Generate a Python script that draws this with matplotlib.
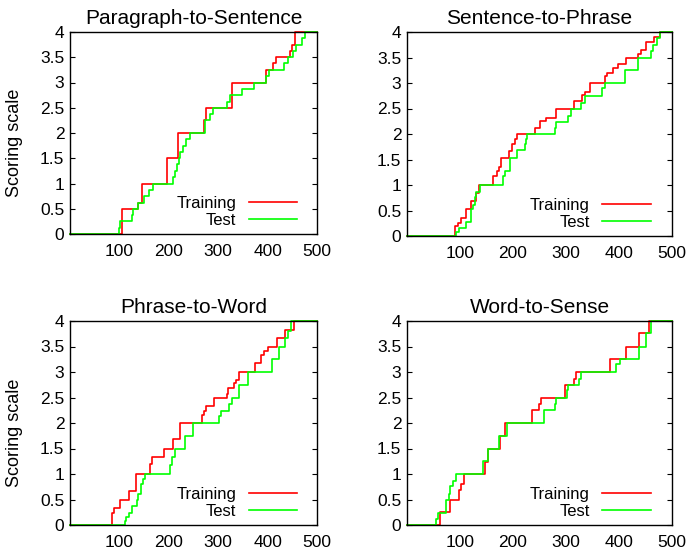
import matplotlib
matplotlib.use('Agg')
import matplotlib.pyplot as plt
from matplotlib.ticker import FuncFormatter

plt.rcParams['font.family'] = ['Liberation Sans', 'DejaVu Sans']

titles = ['Paragraph-to-Sentence', 'Sentence-to-Phrase', 'Phrase-to-Word', 'Word-to-Sense']

# Paragraph-to-Sentence
p2s_train_x = [0, 106, 138, 146, 196, 219, 272, 276, 327, 397, 410, 417, 446, 450, 455]
p2s_train_y = [0, 0.5, 0.62, 1.0, 1.5, 2.0, 2.25, 2.5, 3.0, 3.25, 3.38, 3.5, 3.62, 3.75, 4.0]
p2s_test_x = [0, 99, 102, 125, 128, 138, 150, 160, 168, 209, 212, 216, 220, 223, 229, 235, 242,
              274, 283, 290, 318, 324, 348, 372, 397, 403, 434, 442, 451, 458, 470, 476]
p2s_test_y = [0, 0.12, 0.25, 0.38, 0.5, 0.62, 0.75, 0.88, 1.0, 1.12, 1.25, 1.38, 1.5, 1.62, 1.75, 1.88, 2.0,
              2.25, 2.38, 2.5, 2.62, 2.75, 2.88, 3.0, 3.12, 3.25, 3.38, 3.5, 3.62, 3.75, 3.88, 4.0]

# Sentence-to-Phrase
s2p_train_x = [0, 91, 96, 101, 111, 121, 131, 136, 162, 170, 174, 178, 192, 199, 203, 208,
               241, 250, 262, 281, 315, 330, 336, 346, 374, 378, 388, 399, 414, 436, 442, 451, 466, 477]
s2p_train_y = [0, 0.19, 0.25, 0.35, 0.52, 0.68, 0.84, 1.0, 1.17, 1.27, 1.35, 1.52, 1.67, 1.8, 1.9, 2.0,
               2.12, 2.25, 2.32, 2.5, 2.64, 2.76, 2.82, 3.0, 3.13, 3.2, 3.3, 3.38, 3.5, 3.57, 3.65, 3.8, 3.9, 4.0]
s2p_test_x = [0, 92, 98, 111, 121, 125, 128, 131, 137, 182, 184, 194, 208, 222, 225, 227,
              280, 282, 303, 310, 329, 335, 367, 374, 411, 435, 460, 464, 471, 477]
s2p_test_y = [0, 0.08, 0.16, 0.28, 0.52, 0.6, 0.77, 0.86, 1.0, 1.17, 1.28, 1.52, 1.68, 1.8, 1.9, 2.0,
              2.12, 2.23, 2.35, 2.5, 2.6, 2.75, 2.9, 3.0, 3.25, 3.5, 3.62, 3.75, 3.88, 4.0]

# Phrase-to-Word
p2w_train_x = [0, 86, 90, 101, 119, 133, 162, 167, 191, 209, 222, 268, 271, 275, 292,
               317, 320, 332, 336, 342, 374, 387, 392, 400, 420, 436, 454]
p2w_train_y = [0, 0.23, 0.33, 0.5, 0.67, 1.0, 1.19, 1.34, 1.5, 1.68, 2.0, 2.16, 2.24, 2.33, 2.5,
               2.57, 2.68, 2.78, 2.85, 3.0, 3.18, 3.34, 3.42, 3.5, 3.67, 3.83, 4.0]
p2w_test_x = [0, 111, 113, 119, 125, 135, 138, 144, 147, 152, 202, 206, 212, 232, 249,
              302, 305, 322, 328, 342, 360, 409, 423, 435, 441, 448]
p2w_test_y = [0, 0.07, 0.15, 0.23, 0.37, 0.5, 0.61, 0.8, 0.9, 1.0, 1.18, 1.34, 1.5, 1.75, 2.0,
              2.13, 2.24, 2.38, 2.5, 2.74, 3.0, 3.25, 3.5, 3.67, 3.8, 4.0]

# Word-to-Sense
w2s_train_x = [0, 62, 81, 98, 102, 108, 147, 152, 175, 184, 236, 249, 252, 299, 316, 318,
               383, 413, 437, 456]
w2s_train_y = [0, 0.25, 0.5, 0.68, 0.8, 1.0, 1.24, 1.5, 1.75, 2.0, 2.25, 2.37, 2.5, 2.74, 2.87, 3.0,
               3.26, 3.5, 3.77, 4.0]
w2s_test_x = [0, 55, 59, 74, 79, 82, 87, 93, 143, 152, 173, 188, 258, 279, 282, 301, 304, 325, 328,
              395, 401, 437, 450, 460]
w2s_test_y = [0, 0.12, 0.23, 0.5, 0.6, 0.76, 0.87, 1.0, 1.25, 1.5, 1.75, 2.0, 2.25, 2.37, 2.5, 2.64, 2.74, 2.87, 3.0,
              3.15, 3.26, 3.5, 3.77, 4.0]

train_x = [p2s_train_x, s2p_train_x, p2w_train_x, w2s_train_x]
train_y = [p2s_train_y, s2p_train_y, p2w_train_y, w2s_train_y]
test_x = [p2s_test_x, s2p_test_x, p2w_test_x, w2s_test_x]
test_y = [p2s_test_y, s2p_test_y, p2w_test_y, w2s_test_y]

x_max = 500
y_ticks = [0, 0.5, 1, 1.5, 2, 2.5, 3, 3.5, 4]
x_ticks = [100, 200, 300, 400, 500]

W, H = 686, 554
# panel boxes in pixels: left, top, right, bottom
boxes = [(70, 32, 317, 234), (407, 32, 672, 236), (70, 321, 317, 525), (407, 321, 672, 525)]

fig = plt.figure(figsize=(W / 100, H / 100), dpi=100)

for i in range(4):
  l, t, r, b = boxes[i]
  ax = fig.add_axes([l / W, 1 - b / H, (r - l) / W, (b - t) / H])
  xs = train_x[i] + [x_max]
  ys = train_y[i] + [train_y[i][-1]]
  ax.step(xs, ys, where='post', color='#ff0000', lw=1.2, label='Training', clip_on=False)
  xs = test_x[i] + [x_max]
  ys = test_y[i] + [test_y[i][-1]]
  ax.step(xs, ys, where='post', color='#00ff00', lw=1.2, label='Test', clip_on=False)

  ax.set_xlim(0, x_max)
  ax.set_ylim(0, 4)
  ax.set_xticks(x_ticks)
  ax.set_yticks(y_ticks)
  ax.yaxis.set_major_formatter(FuncFormatter(lambda v, p: '%g' % v))
  ax.tick_params(axis='y', direction='in', length=3.5, width=0.8, right=True, labelsize=12.5, pad=4)
  ax.tick_params(axis='x', length=0, labelsize=12.5, pad=7)
  for s in ax.spines.values():
    s.set_linewidth(1.0)
  ax.set_title(titles[i], fontsize=15, pad=6)
  if i % 2 == 0:
    ax.set_ylabel('Scoring scale', fontsize=13)
    ax.yaxis.set_label_coords(-0.19, 0.45)
  ax.legend(loc='lower right', bbox_to_anchor=(0.92, 0.03), frameon=False, markerfirst=False,
            fontsize=12, handlelength=2.9, handletextpad=0.75, labelspacing=0.1,
            borderaxespad=0, borderpad=0)

fig.savefig('out.png', dpi=100)
